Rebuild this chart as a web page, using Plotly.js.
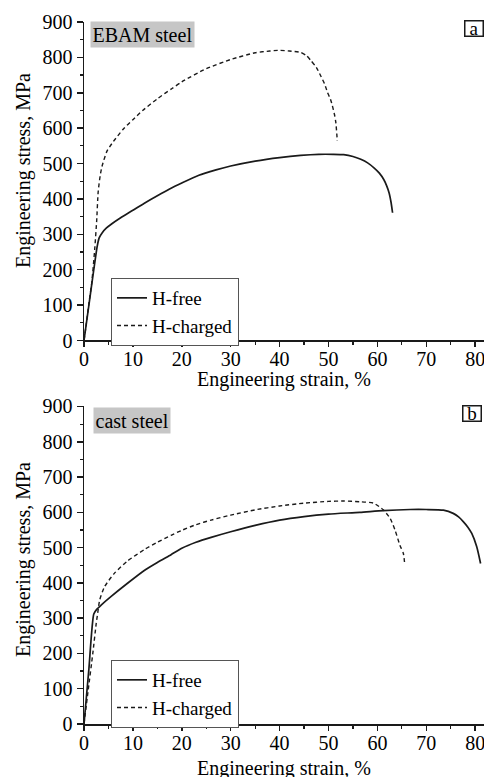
<!DOCTYPE html>
<html>
<head>
<meta charset="utf-8">
<script src="https://cdn.plot.ly/plotly-3.0.1.min.js"></script>
<style>html,body{margin:0;padding:0;background:#fff;}#chart{width:484px;height:777px;}</style>
</head>
<body>
<div id="chart"></div>
<script>
// Panel a: EBAM steel
const strainFreeA = [0, 1.0, 2.0, 2.7, 3.1, 3.7, 4.6, 5.7, 7.5, 10, 12.6, 15, 17.5, 20, 23.5, 27, 30, 35, 40, 44.3, 48, 51, 53.1, 55, 56.6, 58, 59.3, 60.4, 61.3, 61.9, 62.4, 62.8, 63.1];
const stressFreeA = [0, 100, 200, 266, 290, 304, 318, 330, 347, 368, 390, 409, 428, 445, 467, 482, 493, 507, 517, 523, 526, 526, 525, 520, 512, 502, 488, 473, 455, 437, 417, 390, 361];
const strainChargedA = [0, 0.4, 1.0, 1.6, 2.2, 2.6, 2.9, 3.3, 3.7, 4.7, 6, 8, 10, 12, 15, 18, 20, 25, 30, 35, 38, 40, 42, 44.3, 45.5, 46.4, 47.5, 48.4, 49.2, 49.8, 50.4, 50.8, 51.2, 51.5, 51.8];
const stressChargedA = [0, 40, 105, 165, 260, 340, 420, 465, 493, 535, 562, 597, 624, 650, 683, 712, 731, 768, 794, 813, 818, 820, 818, 814, 805, 791, 772, 748, 725, 701, 682, 663, 640, 616, 564];

// Panel b: cast steel
const strainFreeB = [0, 1.0, 2.0, 2.6, 3.5, 5.5, 8.9, 12.4, 15, 17.8, 20, 22.9, 26, 30, 35, 40, 45, 50, 56.4, 61.2, 66.7, 70, 73.5, 75.5, 76.6, 77.6, 78.5, 79.3, 80.3, 81.1];
const stressFreeB = [0, 156, 312, 325, 337, 361, 399, 436, 458, 480, 498, 515, 529, 545, 563, 578, 588, 595, 600, 605, 608, 608, 606, 597, 587, 573, 558, 540, 503, 455];
const strainChargedB = [0, 0.8, 1.8, 2.5, 2.8, 3.2, 4.2, 6.2, 8.9, 12.4, 15, 17.8, 20, 22.9, 26, 30, 35, 40, 45, 50, 53, 56.4, 59.2, 61.2, 62.6, 63.6, 64.6, 65.3, 65.6];
const stressChargedB = [0, 90, 200, 285, 314, 351, 389, 427, 462, 495, 515, 535, 549, 565, 578, 592, 607, 618, 626, 631, 632, 630, 626, 607, 583, 550, 507, 484, 451];

const seriesNames = ["H-free", "H-charged"];
const panelLabels = ["EBAM steel", "cast steel"];
const panelLetters = ["a", "b"];
const xTitle = "Engineering strain, %";
const yTitle = "Engineering stress, MPa";

const FONT = "'Liberation Serif', 'Times New Roman', serif";
const solid = {color: "#1a1a1a", width: 1.7, shape: "spline", smoothing: 0.6};
const dashed = {color: "#1a1a1a", width: 1.4, dash: "4px,3px", shape: "spline", smoothing: 0.6};

const traces = [
  {x: strainFreeA, y: stressFreeA, name: seriesNames[0], mode: "lines", line: solid, xaxis: "x", yaxis: "y", legend: "legend"},
  {x: strainChargedA, y: stressChargedA, name: seriesNames[1], mode: "lines", line: dashed, xaxis: "x", yaxis: "y", legend: "legend"},
  {x: strainFreeB, y: stressFreeB, name: seriesNames[0], mode: "lines", line: solid, xaxis: "x2", yaxis: "y2", legend: "legend2"},
  {x: strainChargedB, y: stressChargedB, name: seriesNames[1], mode: "lines", line: dashed, xaxis: "x2", yaxis: "y2", legend: "legend2"}
];

function xa(anchor) {
  return {
    anchor: anchor, domain: [0, 1], range: [0, 81.8], dtick: 10, tick0: 0,
    ticks: "outside", ticklen: 5, tickwidth: 1.5, tickcolor: "#1a1a1a",
    minor: {dtick: 5, ticks: "outside", ticklen: 3, tickwidth: 1.2, tickcolor: "#1a1a1a", showgrid: false},
    showline: true, linecolor: "#1a1a1a", linewidth: 1.5,
    showgrid: false, zeroline: false, ticklabeloverflow: "allow",
    ticklabelstandoff: -5,
    tickfont: {family: FONT, size: 20, color: "#000"}
  };
}
function ya(anchor, domain) {
  return {
    anchor: anchor, domain: domain, range: [0, 900], dtick: 100, tick0: 0,
    ticks: "outside", ticklen: 6, tickwidth: 1.5, tickcolor: "#1a1a1a",
    minor: {dtick: 50, ticks: "outside", ticklen: 3, tickwidth: 1.2, tickcolor: "#1a1a1a", showgrid: false},
    showline: true, linecolor: "#1a1a1a", linewidth: 1.5,
    showgrid: false, zeroline: false, ticklabeloverflow: "allow",
    tickfont: {family: FONT, size: 20, color: "#000"}
  };
}

function legendCfg(ytop) {
  return {
    x: 0.0675, y: ytop, xanchor: "left", yanchor: "top",
    bgcolor: "#fff", bordercolor: "#555", borderwidth: 1,
    font: {family: FONT, size: 19, color: "#000"},
    tracegroupgap: 0
  };
}

const annFont = {family: FONT, size: 20, color: "#000"};
const annotations = [
  {text: panelLabels[0], xref: "paper", yref: "paper", x: 0.015, y: 1.0014, xanchor: "left", yanchor: "top", showarrow: false, bgcolor: "#c6c6c6", borderpad: 1.5, font: annFont},
  {text: panelLabels[1], xref: "paper", yref: "paper", x: 0.0218, y: 0.452, xanchor: "left", yanchor: "top", showarrow: false, bgcolor: "#c6c6c6", borderpad: 1.5, font: annFont},
  {text: panelLetters[0], xref: "paper", yref: "paper", x: 0.975, y: 0.9905, xanchor: "center", yanchor: "middle", showarrow: false, bordercolor: "#1a1a1a", borderwidth: 1.5, borderpad: 0, width: 17, height: 14, font: {family: FONT, size: 19, color: "#000"}},
  {text: panelLetters[1], xref: "paper", yref: "paper", x: 0.97, y: 0.4423, xanchor: "center", yanchor: "middle", showarrow: false, bordercolor: "#1a1a1a", borderwidth: 1.5, borderpad: 0, width: 17, height: 14, font: {family: FONT, size: 19, color: "#000"}},
  {text: xTitle, xref: "paper", yref: "paper", x: 0.5, y: 0.4905, xanchor: "center", yanchor: "middle", showarrow: false, font: annFont},
  {text: xTitle, xref: "paper", yref: "paper", x: 0.5, y: -0.0627, xanchor: "center", yanchor: "middle", showarrow: false, font: annFont},
  {text: yTitle, xref: "paper", yref: "paper", x: -0.1525, y: 0.7877, xanchor: "center", yanchor: "middle", textangle: -90, showarrow: false, font: annFont},
  {text: yTitle, xref: "paper", yref: "paper", x: -0.1525, y: 0.2336, xanchor: "center", yanchor: "middle", textangle: -90, showarrow: false, font: annFont}
];

const layout = {
  width: 484, height: 777,
  margin: {l: 84, r: 0, t: 22, b: 53, pad: 0},
  paper_bgcolor: "#fff", plot_bgcolor: "#fff",
  showlegend: true,
  xaxis: xa("y"),
  yaxis: ya("x", [0.5463, 1]),
  xaxis2: xa("y2"),
  yaxis2: ya("x2", [0, 0.4523]),
  legend: legendCfg(0.6353),
  legend2: legendCfg(0.0912),
  annotations: annotations,
  font: {family: FONT, color: "#000"}
};

Plotly.newPlot("chart", traces, layout, {staticPlot: true, displayModeBar: false});
</script>
</body>
</html>
